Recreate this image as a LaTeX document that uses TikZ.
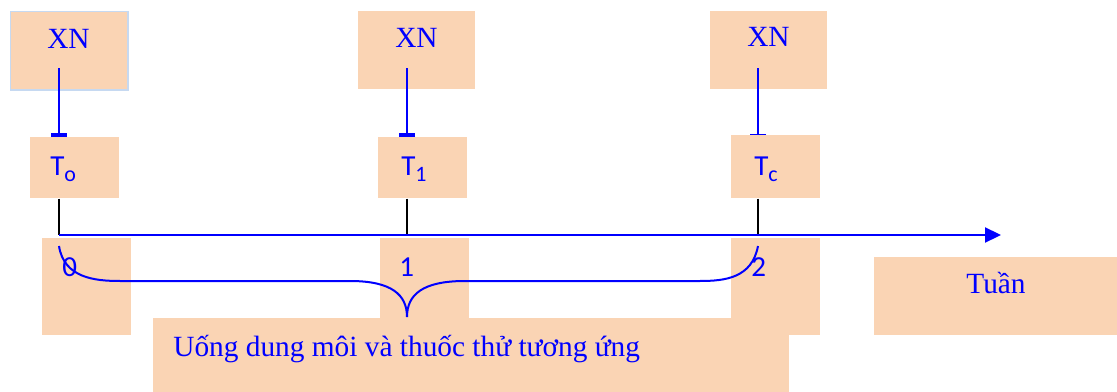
\documentclass[tikz,border=0pt]{standalone}
\usepackage{fontspec}
\setmainfont{Liberation Serif}
\newfontfamily\calfont{Carlito}
\usetikzlibrary{arrows.meta}
\definecolor{peach}{HTML}{FAD4B4}
\definecolor{lblue}{HTML}{C6D9F1}
\definecolor{pblue}{HTML}{0000FF}
\tikzset{
  box/.style={fill=peach, draw=none, inner sep=0pt, anchor=north west},
  lbl/.style={text=pblue, inner sep=0pt, anchor=base west},
  serif/.style={font=\fontsize{16.7pt}{18pt}\selectfont},
  sans/.style={font=\calfont\fontsize{16.5pt}{18pt}\selectfont},
  link/.style={draw=pblue, line width=0.045cm},
  tick/.style={draw=black, line width=0.028cm},
}
\newcommand\subs[1]{\raisebox{-0.5ex}{\fontsize{12.5pt}{13pt}\selectfont #1}}
\begin{document}
\begin{tikzpicture}[x=0.02cm, y=-0.02cm]
\useasboundingbox (0,0) rectangle (1117,392);
% boxes
\node[box, minimum width=117*0.02cm, minimum height=78*0.02cm, draw=lblue, line width=0.03cm] (xn0) at (10,11) {};
\node[box, minimum width=117*0.02cm, minimum height=78*0.02cm] (xn1) at (358,11) {};
\node[box, minimum width=117*0.02cm, minimum height=78*0.02cm] (xn2) at (710,11) {};
\node[box, minimum width=89*0.02cm, minimum height=61*0.02cm] (t0) at (30,137) {};
\node[box, minimum width=89*0.02cm, minimum height=61*0.02cm] (t1) at (378,137) {};
\node[box, minimum width=89*0.02cm, minimum height=63*0.02cm] (tc) at (731,135) {};
\node[box, minimum width=89*0.02cm, minimum height=97*0.02cm] (n0) at (42,238) {};
\node[box, minimum width=89*0.02cm, minimum height=97*0.02cm] (n1) at (380,238) {};
\node[box, minimum width=89*0.02cm, minimum height=97*0.02cm] (n2) at (731,238) {};
\node[box, minimum width=636*0.02cm, minimum height=74*0.02cm] (bot) at (153,318) {};
\node[box, minimum width=243*0.02cm, minimum height=78*0.02cm] (wk) at (874,257) {};
% texts
\node[lbl, serif, anchor=base] (xn0t) at (68.5,49) {XN};
\node[lbl, serif, anchor=base] (xn1t) at (416.5,48) {XN};
\node[lbl, serif, anchor=base] (xn2t) at (768.5,47) {XN};
\node[lbl, sans] (t0t) at (50,175) {T\subs{o}};
\node[lbl, sans] (t1t) at (401,175) {T\subs{1}};
\node[lbl, sans] (tct) at (754,175) {T\subs{c}};
\node[lbl, sans] (n0t) at (62,276) {0};
\node[lbl, sans] (n1t) at (399,276) {1};
\node[lbl, sans] (n2t) at (751,276) {2};
\node[lbl, serif] (bott) at (173,356) {Uống dung môi và thuốc thử tương ứng};
\node[lbl, serif] (wkt) at (966,293) {Tuần};
% coordinates
\coordinate (a0) at (59,68);
\coordinate (a1) at (407,68);
\coordinate (a2) at (758,68);
\coordinate (ax0) at (59,235);
\coordinate (ax1) at (1001,235);
% XN -> T connectors
\draw[link, -{Bar[width=0.32cm, line width=0.08cm]}] (a0) -- (a0 |- t0.north);
\draw[link, -{Bar[width=0.32cm, line width=0.08cm]}] (a1) -- (a1 |- t1.north);
\draw[link, -{Bar[width=0.32cm, line width=0.025cm]}] (a2) -- (a2 |- tc.north);
% ticks
\draw[tick] (a0 |- t0.south) -- (a0 |- ax0);
\draw[tick] (a1 |- t1.south) -- (a1 |- ax0);
\draw[tick] (a2 |- tc.south) -- (a2 |- ax0);
% axis
\draw[link, -{Triangle[length=0.32cm, width=0.3cm]}] (ax0) -- (ax1);
% brace
\coordinate (b0) at (59,246);
\coordinate (b1) at (407,317);
\coordinate (b2) at (758,246);
\draw[link, line width=0.04cm] (b0) .. controls (64,278) and (95,281) .. (120,281) -- (350,281)
  .. controls (392,281) and (407,295) .. (b1)
  .. controls (407,295) and (422,281) .. (465,281) -- (700,281)
  .. controls (725,281) and (752,278) .. (b2);
\end{tikzpicture}
\end{document}
